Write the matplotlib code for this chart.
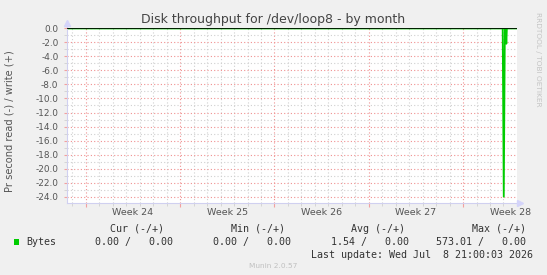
import matplotlib
matplotlib.use("Agg")
import matplotlib.pyplot as plt
from matplotlib.patches import Rectangle
from matplotlib.ticker import MultipleLocator, FixedLocator, FormatStrFormatter

# data: days relative to last update (Wed Jul 8 21:00:03 2026)
read_t = [-33.4, -1.04, -0.96, -0.88, -0.81, -0.77, -0.73, 0.0]
read_v = [0.0, 0.0, -24.0, 0.0, 0.0, -2.2, 0.0, 0.0]
write_t = [-33.4, 0.0]
write_v = [0.0, 0.0]

week_starts = [-31.98, -24.98, -17.98, -10.98, -3.98]
week_labels = ["Week 24", "Week 25", "Week 26", "Week 27", "Week 28"]

legend_name = "Bytes"
cols = ["Cur (-/+)", "Min (-/+)", "Avg (-/+)", "Max (-/+)"]
col_vals = ["0.00 /   0.00", "0.00 /   0.00", "1.54 /   0.00", "573.01 /   0.00"]
last_update = "Last update: Wed Jul  8 21:00:03 2026"

W, H = 547, 275
fig = plt.figure(figsize=(W / 100, H / 100), dpi=100)
fig.patch.set_facecolor("#F0F0F0")

def fx(x):
    return x / W

def fy(y):
    return 1 - y / H

left, right, top, bottom = 66.7, 516.7, 28.3, 203.3
ax = fig.add_axes([fx(left), fy(bottom), (right - left) / W, (bottom - top) / H])
ax.set_facecolor("white")

ax.set_xlim(-33.4, 0)
ax.set_ylim(-24.94, 0)

# grid
ax.yaxis.set_major_locator(MultipleLocator(2))
ax.yaxis.set_minor_locator(MultipleLocator(1))
ax.yaxis.set_major_formatter(FormatStrFormatter("%.1f"))
ax.xaxis.set_major_locator(FixedLocator(week_starts))
minor_days = [week_starts[0] - 1 + i for i in range(35) if week_starts[0] - 1 + i > -33.4]
ax.xaxis.set_minor_locator(FixedLocator(minor_days))
ax.grid(which="minor", color="#D0D0D0", linestyle=(0, (1, 2)), linewidth=0.8)
ax.grid(which="major", color="#F09090", linestyle=(0, (1, 2)), linewidth=0.8)
ax.set_axisbelow(True)

ax.tick_params(axis="y", which="major", length=2, color="#F2A0A0", labelsize=6.4,
               labelcolor="#555555", pad=4)
ax.tick_params(axis="y", which="minor", length=2, color="#D0D0D0")
ax.tick_params(axis="x", which="major", length=3, color="#F2A0A0", labelbottom=False)
ax.tick_params(axis="x", which="minor", length=2, color="#D0D0D0")

for s in ["top", "right"]:
    ax.spines[s].set_visible(False)
for s in ["left", "bottom"]:
    ax.spines[s].set_color("#D0D0F0")
    ax.spines[s].set_linewidth(0.8)
ax.spines["left"].set_bounds(-24.94, 0.6)
ax.spines["bottom"].set_bounds(-33.4, 0.15)

# week labels in middle of weeks
for ws, lab in zip(week_starts, week_labels):
    ax.text(ws + 3.5, -0.055, lab, transform=ax.get_xaxis_transform(),
            ha="center", va="center", fontsize=6.8, color="#555555")

# axis arrows
ax.plot([0], [1.03], marker="^", ms=4, color="#D4D4FA", transform=ax.transAxes,
        clip_on=False, zorder=6)
ax.plot([1.007], [0], marker=">", ms=4, color="#D4D4FA", transform=ax.transAxes,
        clip_on=False, zorder=6)

ax.plot(write_t, write_v, color="#00CC00", lw=1)
ax.plot(read_t, read_v, color="#00CC00", lw=1.3)
ax.axhline(0, color="black", lw=1.2, zorder=5)

# texts
fig.text(fx(273), fy(19), "Disk throughput for /dev/loop8 - by month",
         ha="center", va="center", fontsize=9.0, color="#444444")
fig.text(fx(10), fy(121), "Pr second read (-) / write (+)", rotation=90,
         ha="center", va="center", fontsize=7.1, color="#555555")
fig.text(fx(538), fy(59), "RRDTOOL / TOBI OETIKER", rotation=-90,
         ha="center", va="center", fontsize=5.3, color="#C4C4C4")

mono = "DejaVu Sans Mono"
fig.patches.append(Rectangle((fx(14), fy(245)), 5 / W, 6 / H, transform=fig.transFigure,
                             facecolor="#00CC00", edgecolor="none"))
fig.text(fx(26), fy(242), legend_name, ha="left", va="center", family=mono,
         fontsize=7.2, color="#333333")
head_x = [164, 285, 405, 526]
val_x = [173.4, 291, 409, 526]
for c, hx in zip(cols, head_x):
    fig.text(fx(hx), fy(228.6), c, ha="right", va="center", family=mono,
             fontsize=7.2, color="#333333")
for v, vx in zip(col_vals, val_x):
    fig.text(fx(vx), fy(242), v, ha="right", va="center", family=mono,
             fontsize=7.2, color="#333333")
fig.text(fx(533), fy(254.5), last_update, ha="right", va="center", family=mono,
         fontsize=7.2, color="#333333")
fig.text(fx(273), fy(266.5), "Munin 2.0.57", ha="center", va="center",
         fontsize=5.3, color="#C0C0C0")

fig.savefig("out.png", dpi=100, facecolor=fig.get_facecolor())
